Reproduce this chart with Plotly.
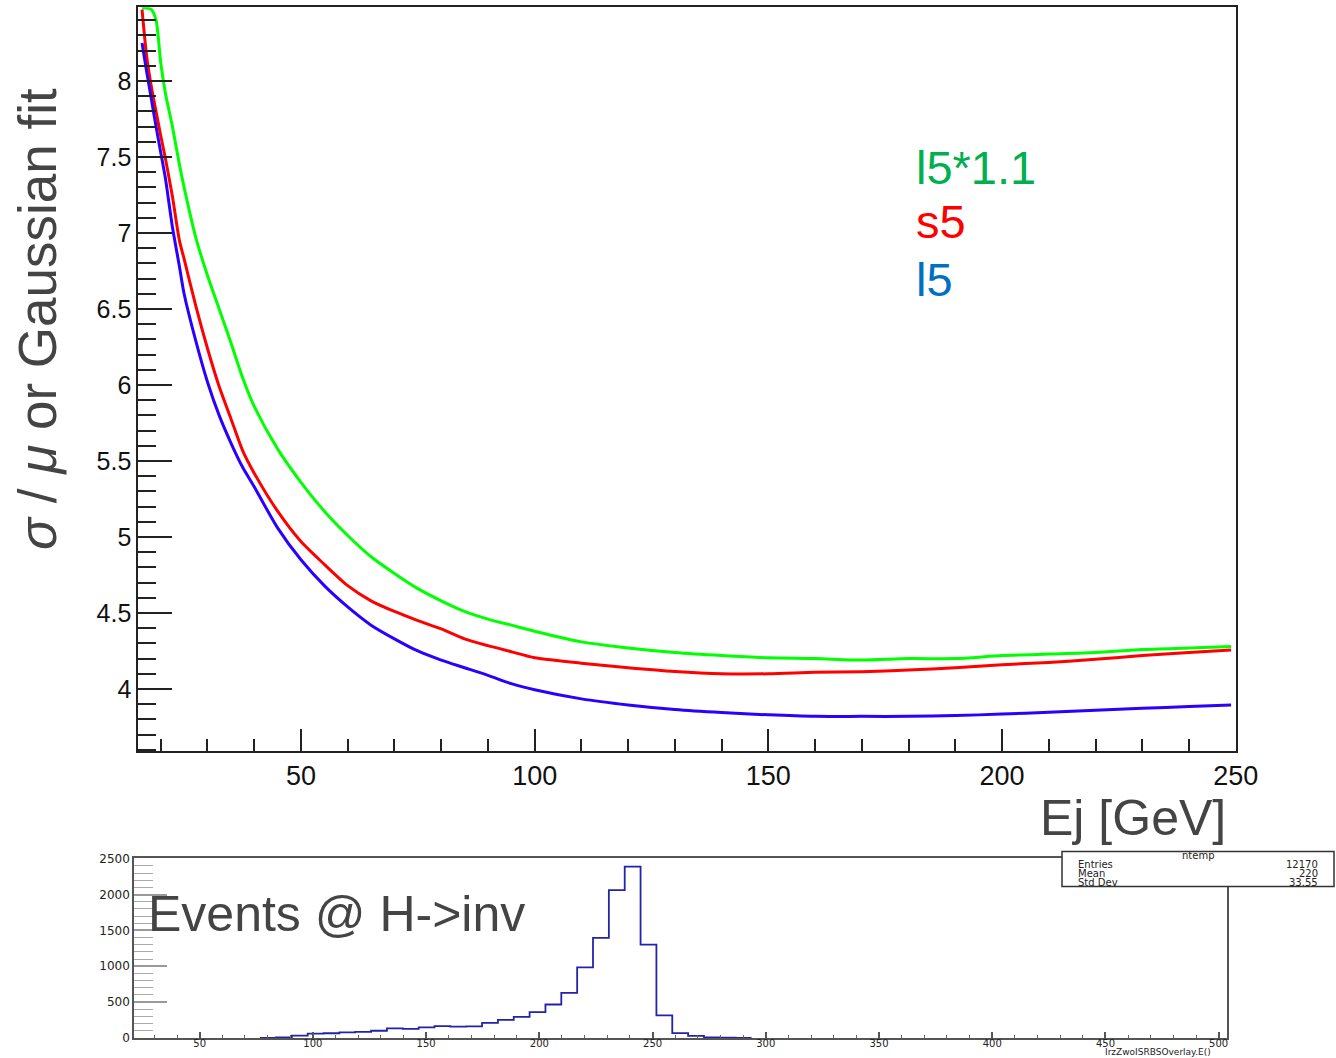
import plotly.graph_objects as go

# ---------------- data: main panel (resolution vs jet energy) ----------------
energy_gev = [16, 17, 18, 19, 20, 21, 22.5, 24, 25, 27.5, 30, 32.5, 35, 37.5, 40, 45, 50, 55,
              60, 65, 70, 75, 80, 85, 90, 95, 100, 110, 120, 130, 140, 150, 160, 170, 180,
              190, 200, 210, 220, 230, 240, 249]
res_l5 = [8.25, 8.06, 7.88, 7.70, 7.53, 7.36, 7.04, 6.78, 6.60, 6.29, 6.02, 5.80, 5.62, 5.46,
          5.33, 5.06, 4.85, 4.68, 4.54, 4.42, 4.33, 4.25, 4.19, 4.14, 4.09, 4.035, 3.995,
          3.935, 3.895, 3.865, 3.845, 3.83, 3.82, 3.82, 3.82, 3.825, 3.835, 3.847, 3.86,
          3.873, 3.884, 3.895]
res_s5 = [8.47, 8.16, 7.96, 7.80, 7.64, 7.49, 7.24, 6.95, 6.83, 6.52, 6.24, 5.99, 5.78, 5.57,
          5.42, 5.17, 4.97, 4.82, 4.68, 4.58, 4.51, 4.45, 4.395, 4.33, 4.285, 4.245, 4.205,
          4.17, 4.14, 4.115, 4.10, 4.10, 4.11, 4.114, 4.125, 4.14, 4.16, 4.175, 4.195, 4.22,
          4.24, 4.256]
res_l5x11 = [8.48, 8.48, 8.47, 8.40, 8.12, 7.92, 7.70, 7.45, 7.30, 6.97, 6.72, 6.50, 6.28,
             6.05, 5.86, 5.58, 5.36, 5.17, 5.01, 4.87, 4.76, 4.66, 4.58, 4.51, 4.46, 4.42,
             4.38, 4.31, 4.27, 4.24, 4.22, 4.205, 4.20, 4.19, 4.20, 4.20, 4.22, 4.23, 4.24,
             4.26, 4.27, 4.28]
series_names = ["l5*1.1", "s5", "l5"]

# ---------------- data: lower panel (event histogram) ----------------
hist_bin_left = [76.7, 83.7, 90.7, 97.7, 104.7, 111.7, 118.7, 125.7, 132.7, 139.7, 146.7, 153.7,
                 160.7, 167.7, 174.7, 181.7, 188.7, 195.7, 202.7, 209.7, 216.7, 223.7, 230.7,
                 237.7, 244.7, 251.7, 258.7, 265.7, 272.7, 279.7, 286.7]
hist_bin_width = 7.0
hist_counts = [3, 8, 33, 62, 66, 78, 85, 101, 133, 128, 147, 165, 158, 162, 210, 253, 294, 362,
               467, 630, 985, 1397, 2060, 2390, 1301, 316, 69, 30, 10, 5, 3]
stats_labels = ["Entries", "Mean", "Std Dev"]
stats_values = ["12170", "220", "33.55"]

W, H = 1336, 1058


def px(x):
    return x / W


def py(y):
    return 1 - y / H


fig = go.Figure()

curve_colors = ["#00ff00", "#ff0000", "#2a00ff"]
for vals, col, name in zip([res_l5x11, res_s5, res_l5], curve_colors, series_names):
    fig.add_trace(go.Scatter(x=energy_gev, y=vals, mode="lines", name=name,
                             line=dict(color=col, width=3, shape="spline", smoothing=0.7),
                             xaxis="x", yaxis="y"))

# histogram as a step outline
step_x = hist_bin_left + [hist_bin_left[-1] + hist_bin_width]
step_y = hist_counts + [hist_counts[-1]]
fig.add_trace(go.Scatter(x=step_x, y=step_y, mode="lines", line_shape="hv",
                         line=dict(color="#2323a8", width=1.8), xaxis="x2", yaxis="y2",
                         name="ntemp"))

main_font = dict(family="Liberation Sans, Arial, sans-serif", color="#111")
hist_yfont = dict(family="DejaVu Sans, sans-serif", size=12, color="#222")
hist_xfont = dict(family="DejaVu Sans, sans-serif", size=10, color="#222")

fig.update_layout(
    template="none",
    width=W, height=H, margin=dict(l=0, r=0, t=0, b=0, pad=0, autoexpand=False),
    paper_bgcolor="white", plot_bgcolor="white", showlegend=False,
    xaxis=dict(domain=[px(138.3), px(1236)], anchor="y", range=[15.2, 250.05],
               automargin=False,
               showline=True, linecolor="#222", linewidth=2, mirror=True,
               ticks="inside", ticklen=22, tickwidth=2, tickcolor="#222",
               tick0=0, dtick=50, showgrid=False, zeroline=False,
               minor=dict(ticks="inside", ticklen=12, dtick=10, tickwidth=2, tickcolor="#222",
                          showgrid=False),
               tickfont=dict(size=27, **main_font)),
    yaxis=dict(domain=[py(751), py(7.3)], anchor="x", range=[3.592, 8.485],
               automargin=False,
               showline=True, linecolor="#222", linewidth=2, mirror=True,
               ticks="inside", ticklen=34, tickwidth=2, tickcolor="#222",
               tick0=0, dtick=0.5, showgrid=False, zeroline=False,
               minor=dict(ticks="inside", ticklen=18, dtick=0.1, tickwidth=2, tickcolor="#222",
                          showgrid=False),
               tickfont=dict(size=25, **main_font)),
    xaxis2=dict(domain=[px(134), px(1226.6)], anchor="y2", range=[21, 503.5],
                automargin=False,
                showline=True, linecolor="#555", linewidth=1.5, mirror=True,
                ticks="inside", ticklen=6, tickwidth=1.5, tickcolor="#555",
                tick0=0, dtick=50, showgrid=False, zeroline=False, ticklabelstandoff=-5,
                minor=dict(ticks="inside", ticklen=3, dtick=10, tickwidth=1, tickcolor="#666",
                           showgrid=False),
                tickfont=hist_xfont),
    yaxis2=dict(domain=[py(1038), py(858.3)], anchor="x2", range=[0, 2505],
                automargin=False,
                showline=True, linecolor="#555", linewidth=1.5, mirror=True,
                ticks="inside", ticklen=33, tickwidth=1.5, tickcolor="#999",
                tick0=0, dtick=500, showgrid=False, zeroline=False,
                minor=dict(ticks="inside", ticklen=19, dtick=100, tickwidth=1, tickcolor="#aaa",
                           showgrid=False),
                tickfont=hist_yfont),
)

title_font = dict(family="Liberation Sans, Arial, sans-serif", color="#444")
ann = []
ann.append(dict(text="<i>σ</i> / <i>μ</i> or Gaussian fit", x=px(37), y=py(319), xref="paper",
                yref="paper", textangle=-90, showarrow=False, xanchor="center", yanchor="middle",
                font=dict(size=53, **title_font)))
ann.append(dict(text="Ej [GeV]", x=px(1228), y=py(818), xref="paper", yref="paper",
                showarrow=False, xanchor="right", yanchor="middle",
                font=dict(size=50, **title_font)))
legend_colors = ["#00b050", "#ff0000", "#0070c0"]
legend_y = [167.5, 221, 279.5]
for name, col, yy in zip(series_names, legend_colors, legend_y):
    ann.append(dict(text=name, x=px(914), y=py(yy), xref="paper", yref="paper",
                    showarrow=False, xanchor="left", yanchor="middle",
                    font=dict(size=47, family="Liberation Sans, Arial, sans-serif", color=col)))
ann.append(dict(text="Events @ H->inv", x=px(146), y=py(913.5), xref="paper", yref="paper",
                showarrow=False, xanchor="left", yanchor="middle",
                font=dict(size=50, **title_font)))
ann.append(dict(text="IrzZwoISRBSOverlay.E()", x=px(1212), y=0, xref="paper",
                yref="paper", showarrow=False, xanchor="right", yanchor="bottom",
                borderpad=0, font=dict(size=9, family="DejaVu Sans, sans-serif", color="#222")))
# stats box
ann.append(dict(text="ntemp", x=px(1198), y=py(855), xref="paper", yref="paper",
                showarrow=False, xanchor="center", yanchor="middle",
                font=dict(size=10, family="DejaVu Sans, sans-serif", color="#222")))
for lab, val, yy in zip(stats_labels, stats_values, [864.5, 873.5, 882]):
    ann.append(dict(text=lab, x=px(1076), y=py(yy), xref="paper", yref="paper",
                    showarrow=False, xanchor="left", yanchor="middle",
                    font=dict(size=10, family="DejaVu Sans, sans-serif", color="#222")))
    ann.append(dict(text=val, x=px(1320), y=py(yy), xref="paper", yref="paper",
                    showarrow=False, xanchor="right", yanchor="middle",
                    font=dict(size=10, family="DejaVu Sans, sans-serif", color="#222")))

fig.update_layout(
    annotations=ann,
    shapes=[dict(type="rect", xref="paper", yref="paper", x0=px(1062), x1=px(1334),
                 y0=py(886.5), y1=py(851.5), line=dict(color="#333", width=1.5),
                 fillcolor="white", layer="above")],
)

fig.write_html("out.html",
               post_script="document.body.style.margin='0px';"
                           "document.documentElement.style.overflow='hidden';")
